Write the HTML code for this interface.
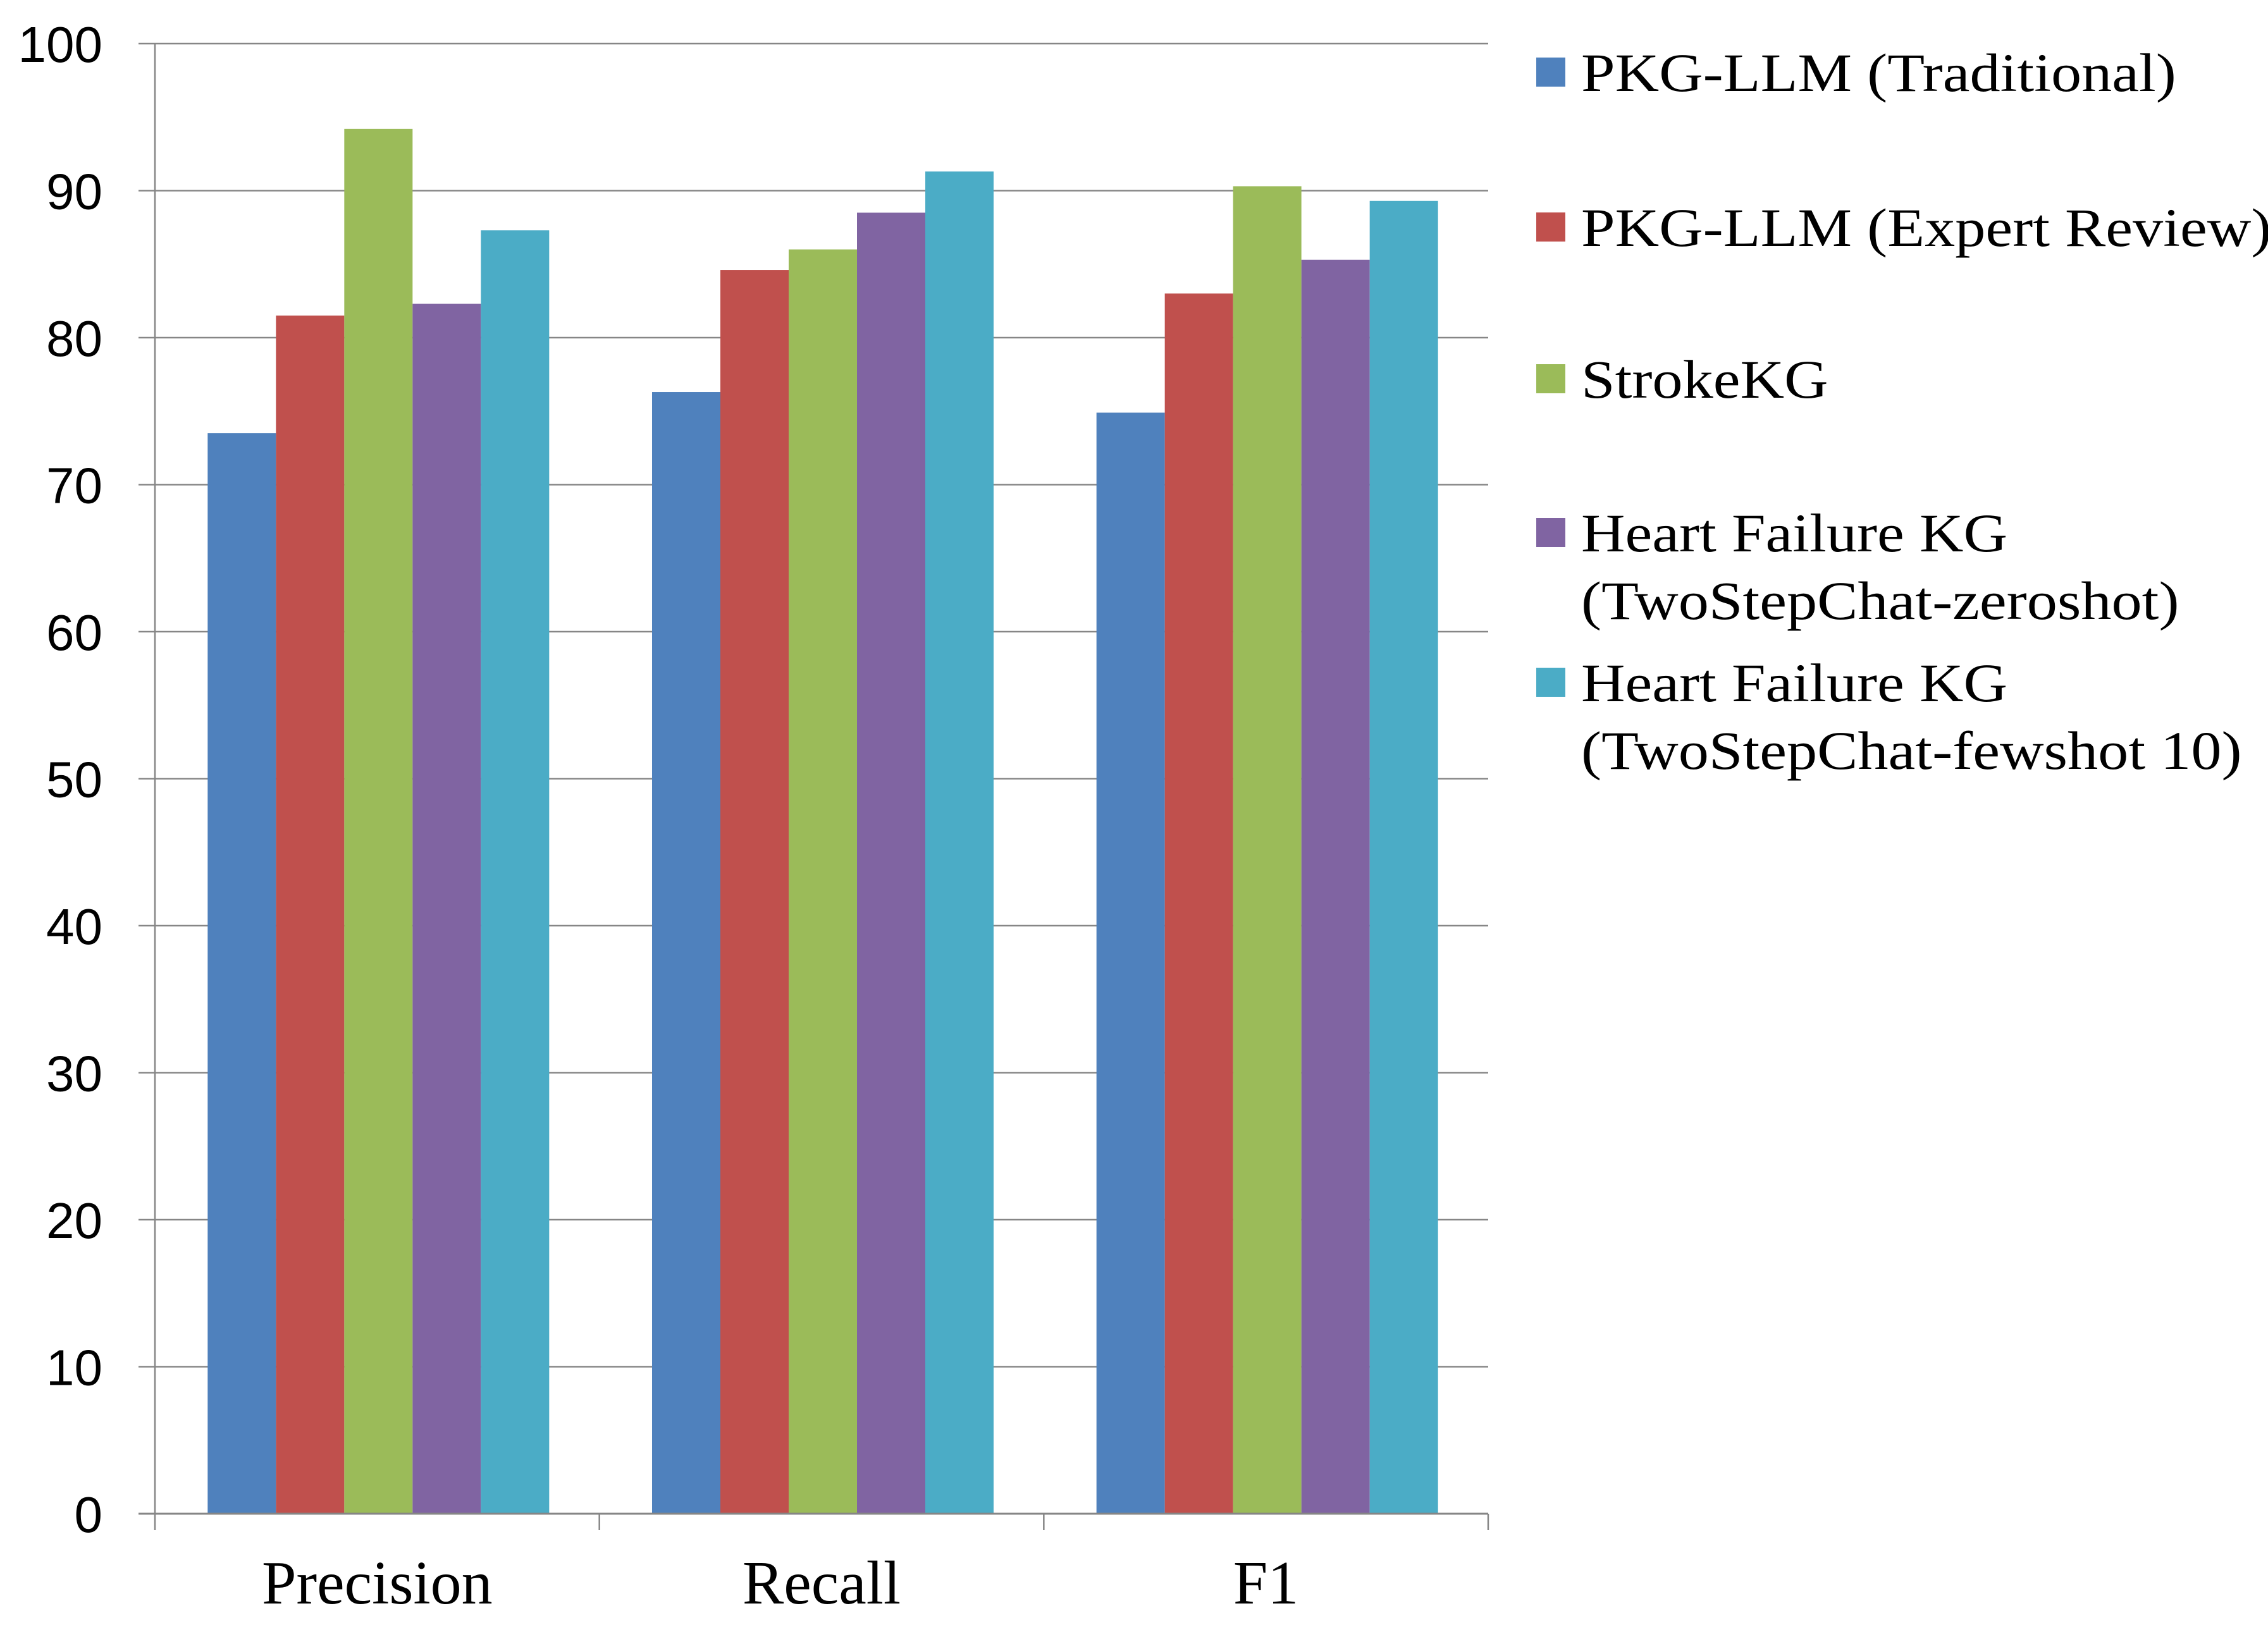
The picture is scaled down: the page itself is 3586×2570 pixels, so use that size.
<!DOCTYPE html>
<html><head><meta charset="utf-8"><style>
html,body{margin:0;padding:0;background:#fff;}
svg{display:block;}
.yl{font-family:"Liberation Sans",sans-serif;font-size:80px;fill:#000;}
.xl{font-family:"Liberation Serif",serif;font-size:98px;fill:#000;}
.lg{font-family:"Liberation Serif",serif;font-size:86px;fill:#000;}
</style></head><body>
<svg id="chart" width="3586" height="2570" viewBox="0 0 3586 2570" xmlns="http://www.w3.org/2000/svg">
<g id="grid"></g><g id="bars"></g><g id="axes"></g><g id="legend"></g>
</svg>
<script>
const categories = ["Precision", "Recall", "F1"];
const seriesNames = ["PKG-LLM (Traditional)", "PKG-LLM (Expert Review)", "StrokeKG", "Heart Failure KG\n(TwoStepChat-zeroshot)", "Heart Failure KG\n(TwoStepChat-fewshot 10)"];
const traditional = [73.5, 76.3, 74.9];
const expertReview = [81.5, 84.6, 83.0];
const strokeKG = [94.2, 86.0, 90.3];
const hfZeroshot = [82.3, 88.5, 85.3];
const hfFewshot = [87.3, 91.3, 89.3];
const yTicks = [0, 10, 20, 30, 40, 50, 60, 70, 80, 90, 100];

const series = [traditional, expertReview, strokeKG, hfZeroshot, hfFewshot];
const colors = ["#4F81BD", "#C0504D", "#9BBB59", "#8064A2", "#4BACC6"];
const NS = "http://www.w3.org/2000/svg";
const X0 = 245, X1 = 2353, Y0 = 2394, Ytop = 69;
const yScale = v => Y0 - (v / 100) * (Y0 - Ytop);
const catW = (X1 - X0) / categories.length;
const barW = 108;
const groupPad = (catW - barW * series.length) / 2 + 2;
const xBar = (ci, si) => X0 + ci * catW + groupPad + si * barW;

function mk(tag, attrs, parent) {
  const el = document.createElementNS(NS, tag);
  for (const k in attrs) el.setAttribute(k, attrs[k]);
  parent.appendChild(el);
  return el;
}
const grid = document.getElementById("grid");
const bars = document.getElementById("bars");
const axes = document.getElementById("axes");
const legend = document.getElementById("legend");

yTicks.forEach(t => {
  const y = yScale(t);
  if (t > 0) {
    const gl = mk("line", {x1: X0 - 26, x2: X1, y1: y, y2: y, stroke: "#868686", "stroke-width": 2.5}, grid);
    
    
  }
  const tx = mk("text", {x: 162, y: y + 29, "text-anchor": "end", class: "yl"}, axes);
  tx.textContent = t;
  
  
});

series.forEach((vals, si) => {
  vals.forEach((v, ci) => {
    const r = mk("rect", {x: xBar(ci, si), y: yScale(v), width: barW, height: Y0 - yScale(v), fill: colors[si]}, bars);
    
    
  });
});

const ya = mk("line", {x1: X0, x2: X0, y1: Ytop, y2: Y0 + 26, stroke: "#868686", "stroke-width": 2.5}, axes);


const xa = mk("line", {x1: X0 - 26, x2: X1, y1: Y0, y2: Y0, stroke: "#868686", "stroke-width": 3}, axes);


for (let i = 1; i <= categories.length; i++) {
  const tk = mk("line", {x1: X0 + i * catW, x2: X0 + i * catW, y1: Y0, y2: Y0 + 26, stroke: "#868686", "stroke-width": 2.5}, axes);
  
  
}
categories.forEach((c, ci) => {
  const t = mk("text", {x: X0 + ci * catW + catW / 2, y: 2536, "text-anchor": "middle", class: "xl"}, axes);
  t.textContent = c;
  
  
});

const legY = [114, 359, 599, 842, 1079];
seriesNames.forEach((n, si) => {
  const g = mk("g", {}, legend);
  
  
  const sw = mk("rect", {x: 2429, y: legY[si] - 23, width: 46, height: 46, fill: colors[si]}, g);
  
  
  n.split("\n").forEach((line, li) => {
    const t = mk("text", {x: 2500, y: legY[si] + 30 + li * 107, class: "lg"}, g);
    t.textContent = line;
    
    
    const w = t.getComputedTextLength();
    t.setAttribute("textLength", w * 1.12);
    t.setAttribute("lengthAdjust", "spacingAndGlyphs");
  });
});
</script>
</body></html>
